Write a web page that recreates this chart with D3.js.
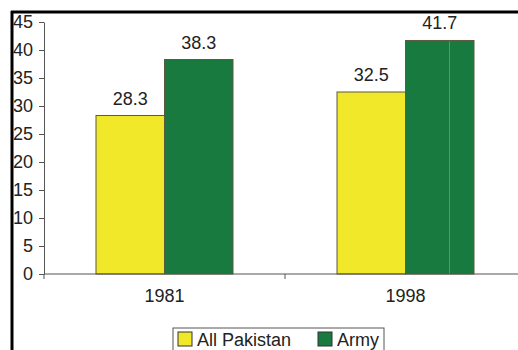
<!DOCTYPE html>
<html>
<head>
<meta charset="utf-8">
<script src="https://cdn.jsdelivr.net/npm/d3@7"></script>
<style>
  body { margin: 0; background: #fff; }
  svg { display: block; font-family: "Liberation Sans", Arial, sans-serif; }
  .axis path, .axis line { stroke: #555; }
  .axis text { font-size: 18px; fill: #222; }
</style>
</head>
<body>
<svg id="chart"></svg>
<script>
var years = ["1981", "1998"],
    series = ["All Pakistan", "Army"],
    allPakistan = [28.3, 32.5],
    army = [38.3, 41.7],
    colors = ["#f2e82a", "#187a3e"],
    yTicks = [0, 5, 10, 15, 20, 25, 30, 35, 40, 45];

var width = 518, height = 350;
var svg = d3.select("#chart").attr("width", width).attr("height", height);

var mLeft = 44, mRight = 526, mTop = 22, mBottom = 274;

var x = d3.scaleBand().domain(years).range([mLeft, mRight]);
var xs = d3.scaleBand().domain(series).range([0, 137]);
var y = d3.scaleLinear().domain([0, 45]).range([mBottom, mTop]);

var data = years.map(function(yr, i) {
  return {year: yr, values: [allPakistan[i], army[i]]};
});

function groupX(yr) { return x(yr) + x.bandwidth() / 2 - 68.5; }

// frame (top and left edges of the cropped image)
svg.append("line").attr("x1", 11).attr("x2", width).attr("y1", 12).attr("y2", 12)
    .attr("stroke", "#000").attr("stroke-width", 3);
svg.append("line").attr("x1", 12).attr("x2", 12).attr("y1", 11).attr("y2", height)
    .attr("stroke", "#000").attr("stroke-width", 3);

var groups = svg.selectAll(".grp")
    .data(data)
  .enter().append("g")
    .attr("class", "grp")
    .attr("transform", function(d) { return "translate(" + groupX(d.year) + ",0)"; });

groups.selectAll("rect")
    .data(function(d) { return d.values; })
  .enter().append("rect")
    .attr("x", function(d, i) { return xs(series[i]); })
    .attr("y", function(d) { return y(d); })
    .attr("width", xs.bandwidth())
    .attr("height", function(d) { return mBottom - y(d); })
    .attr("fill", function(d, i) { return colors[i]; })
    .attr("stroke", "#5a5a40")
    .attr("stroke-width", 1);

groups.selectAll(".lbl")
    .data(function(d) { return d.values; })
  .enter().append("text")
    .attr("class", "lbl")
    .attr("x", function(d, i) { return xs(series[i]) + xs.bandwidth() / 2; })
    .attr("y", function(d) { return y(d) - 11; })
    .attr("text-anchor", "middle")
    .attr("font-size", "18px")
    .attr("fill", "#222")
    .text(function(d) { return d.toFixed(1); });

// faint divider inside the 1998 Army bar, as in the source
var divX = groupX("1998") + xs("Army") + 44;
svg.append("line")
    .attr("x1", divX).attr("x2", divX)
    .attr("y1", y(army[1]) + 1).attr("y2", mBottom)
    .attr("stroke", "#4f9a66").attr("stroke-width", 1);

svg.append("g")
    .attr("class", "axis")
    .attr("transform", "translate(" + mLeft + ",0)")
    .call(d3.axisLeft(y).tickValues(yTicks).tickSize(5).tickPadding(6).tickSizeOuter(0));

var xAxis = svg.append("g")
    .attr("class", "axis")
    .attr("transform", "translate(0," + mBottom + ")");
xAxis.append("line").attr("x1", mLeft).attr("x2", mRight).attr("stroke", "#555");
xAxis.selectAll(".tk")
    .data([mLeft, x("1998")])
  .enter().append("line")
    .attr("x1", function(d) { return d; }).attr("x2", function(d) { return d; })
    .attr("y1", 0).attr("y2", 5).attr("stroke", "#555");
xAxis.selectAll(".yl")
    .data(years)
  .enter().append("text")
    .attr("x", function(d) { return x(d) + x.bandwidth() / 2; })
    .attr("y", 28)
    .attr("text-anchor", "middle")
    .text(function(d) { return d; });

// legend
var lg = svg.append("g").attr("transform", "translate(173,328)");
lg.append("rect").attr("width", 211).attr("height", 30)
    .attr("fill", "#fff").attr("stroke", "#555");
var items = lg.selectAll(".it")
    .data(series)
  .enter().append("g")
    .attr("transform", function(d, i) { return "translate(" + [5, 145][i] + ",4)"; });
items.append("rect").attr("width", 14).attr("height", 14)
    .attr("fill", function(d, i) { return colors[i]; })
    .attr("stroke", "#333");
items.append("text").attr("x", 19).attr("y", 14)
    .attr("font-size", "18px").attr("fill", "#222")
    .text(function(d) { return d; });
</script>
</body>
</html>
